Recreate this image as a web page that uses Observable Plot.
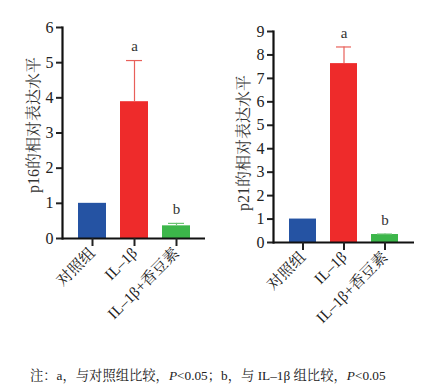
<!DOCTYPE html>
<html><head><meta charset="utf-8">
<script src="https://cdn.jsdelivr.net/npm/d3@7"></script>
<script src="https://cdn.jsdelivr.net/npm/@observablehq/plot@0.6"></script>
<style>
body{margin:0;background:#fff;}
#wrap{position:relative;width:431px;height:387px;background:#fff;font-family:"Liberation Serif","Noto Serif CJK SC","Noto Sans CJK SC",serif;}
#cap{position:absolute;left:30px;top:365px;font-size:13.3px;color:#222;white-space:nowrap;}
</style></head>
<body><div id="wrap"><div id="cap">注：a，与对照组比较，<i>P</i>&lt;0.05；b，与 IL–1β 组比较，<i>P</i>&lt;0.05</div></div>
<script>
const groups = ["对照组", "IL–1β", "IL–1β+香豆素"];
const p16Values = [1.0, 3.89, 0.36];
const p16Errors = [0, 1.17, 0.07];
const p21Values = [1.0, 7.63, 0.34];
const p21Errors = [0, 0.71, 0.02];
const sigLabels = ["", "a", "b"];
const p16Ticks = [0, 1, 2, 3, 4, 5, 6];
const p21Ticks = [0, 1, 2, 3, 4, 5, 6, 7, 8, 9];
const barColors = ["#2553a3", "#ee2b2b", "#3cb64a"];
const errColors = ["#2553a3", "#e8605a", "#6cc474"];

const font = '"Liberation Serif","Noto Serif CJK SC","Noto Sans CJK SC",serif';

function chart(values, errors, ticks, ylabel, m) {
  const data = groups.map((g, i) => ({g, v: values[i], top: values[i] + errors[i], s: sigLabels[i], c: barColors[i], ec: errColors[i]}));
  const errData = data.filter(d => d.top > d.v);
  return Plot.plot({
    width: 215, height: 340,
    marginLeft: m.left, marginRight: m.right, marginTop: m.top, marginBottom: m.bottom,
    style: {fontFamily: font, fontSize: "14px", color: "#222", background: "transparent", overflow: "visible"},
    x: {type: "band", domain: groups, paddingInner: 0.34, paddingOuter: 0.35, axis: null},
    y: {domain: [0, ticks[ticks.length - 1]], axis: null},
    marks: [
      Plot.barY(data, {x: "g", y: "v", fill: "c"}),
      Plot.ruleX(errData, {x: "g", y1: "v", y2: "top", stroke: "ec", strokeWidth: 1.2}),
      Plot.tickY(errData, {x: "g", y: "top", stroke: "ec", strokeWidth: 1.2, insetLeft: 6, insetRight: 6}),
      Plot.text(data, {x: "g", y: "top", text: "s", dy: -14, fontSize: 15, fill: "#333"}),
      Plot.axisY({ticks: ticks, tickFormat: d3.format("d"), tickSize: 6, tickPadding: 3, strokeWidth: 2, fontSize: 16, label: null}),
      Plot.frame({anchor: "left", strokeWidth: 2.2, stroke: "#111"}),
      Plot.ruleY([0], {strokeWidth: 2.2, stroke: "#111"}),
      Plot.axisX({tickSize: 8, strokeWidth: 2, tickRotate: -45, textAnchor: "end", fontSize: 15.5, tickPadding: 4, label: null}),
      Plot.text([ylabel], {frameAnchor: "left", textAnchor: "middle", dx: -m.left + m.labelX, rotate: -90, fontSize: 16, fill: "#333", text: d => d, dy: m.labelDy})
    ]
  });
}

const left = chart(p16Values, p16Errors, p16Ticks, "p16的相对表达水平", {left: 62, right: 10, top: 27, bottom: 102, labelX: 33, labelDy: -8});
left.style.position = "absolute"; left.style.left = "0px"; left.style.top = "0px";
const right = chart(p21Values, p21Errors, p21Ticks, "p21的相对表达水平", {left: 58, right: 16, top: 31, bottom: 98, labelX: 28, labelDy: 6});
right.style.position = "absolute"; right.style.left = "215px"; right.style.top = "0px";
const wrap = document.getElementById("wrap");
wrap.appendChild(left); wrap.appendChild(right);
</script></body></html>
